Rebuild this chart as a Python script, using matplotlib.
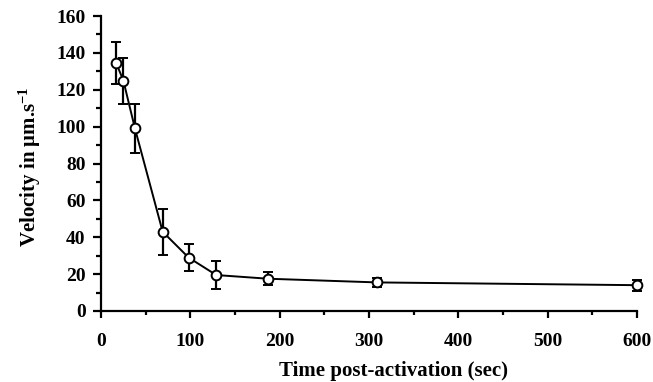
import matplotlib
matplotlib.use("Agg")
import matplotlib.pyplot as plt
from matplotlib.ticker import MultipleLocator

time_sec = [17, 25, 38, 69, 98, 129, 187, 309, 600]
velocity = [134.5, 125, 99, 43, 29, 19.5, 17.5, 15.5, 14]
error = [11.5, 12.5, 13.5, 12.5, 7.5, 7.5, 3.5, 2.5, 3]

plt.rcParams['font.family'] = ['Liberation Serif', 'DejaVu Serif']
plt.rcParams['font.weight'] = 'bold'
plt.rcParams['mathtext.fontset'] = 'custom'
plt.rcParams['mathtext.rm'] = 'Liberation Serif:bold'
plt.rcParams['mathtext.bf'] = 'Liberation Serif:bold'
plt.rcParams['mathtext.default'] = 'bf'

fig = plt.figure(figsize=(6.53, 3.82), dpi=100)
ax = fig.add_axes([0.1547, 0.1859, 0.8208, 0.7721])

ax.errorbar(time_sec, velocity, yerr=error, color='black', lw=1.4,
            elinewidth=1.6, capsize=3.5, capthick=1.6,
            marker='o', markersize=7, markerfacecolor='white',
            markeredgecolor='black', markeredgewidth=1.4, zorder=3)

ax.set_xlim(0, 600)
ax.set_ylim(0, 160)
ax.xaxis.set_major_locator(MultipleLocator(100))
ax.xaxis.set_minor_locator(MultipleLocator(50))
ax.yaxis.set_major_locator(MultipleLocator(20))
ax.yaxis.set_minor_locator(MultipleLocator(10))
for s in ['top', 'right']:
    ax.spines[s].set_visible(False)
for s in ['left', 'bottom']:
    ax.spines[s].set_linewidth(1.6)
ax.tick_params(axis='both', which='both', direction='out', width=1.6, labelsize=14)
ax.tick_params(axis='x', which='major', length=5, pad=10.5)
ax.tick_params(axis='x', which='minor', length=3)
ax.tick_params(axis='y', which='major', length=6, pad=5)
ax.tick_params(axis='y', which='minor', length=3.5)
for lab in ax.get_xticklabels() + ax.get_yticklabels():
    lab.set_fontweight('bold')

ax.set_xlabel('Time post-activation (sec)', fontsize=15, fontweight='bold')
ax.set_ylabel('Velocity in μm.s$^{-1}$', fontsize=15, fontweight='bold')
ax.xaxis.set_label_coords(0.5466, -0.168)
ax.yaxis.set_label_coords(-0.108, 0.488)
for c in ax.get_children():
    try:
        c.set_clip_on(False)
    except Exception:
        pass

fig.savefig('out.png', dpi=100)
